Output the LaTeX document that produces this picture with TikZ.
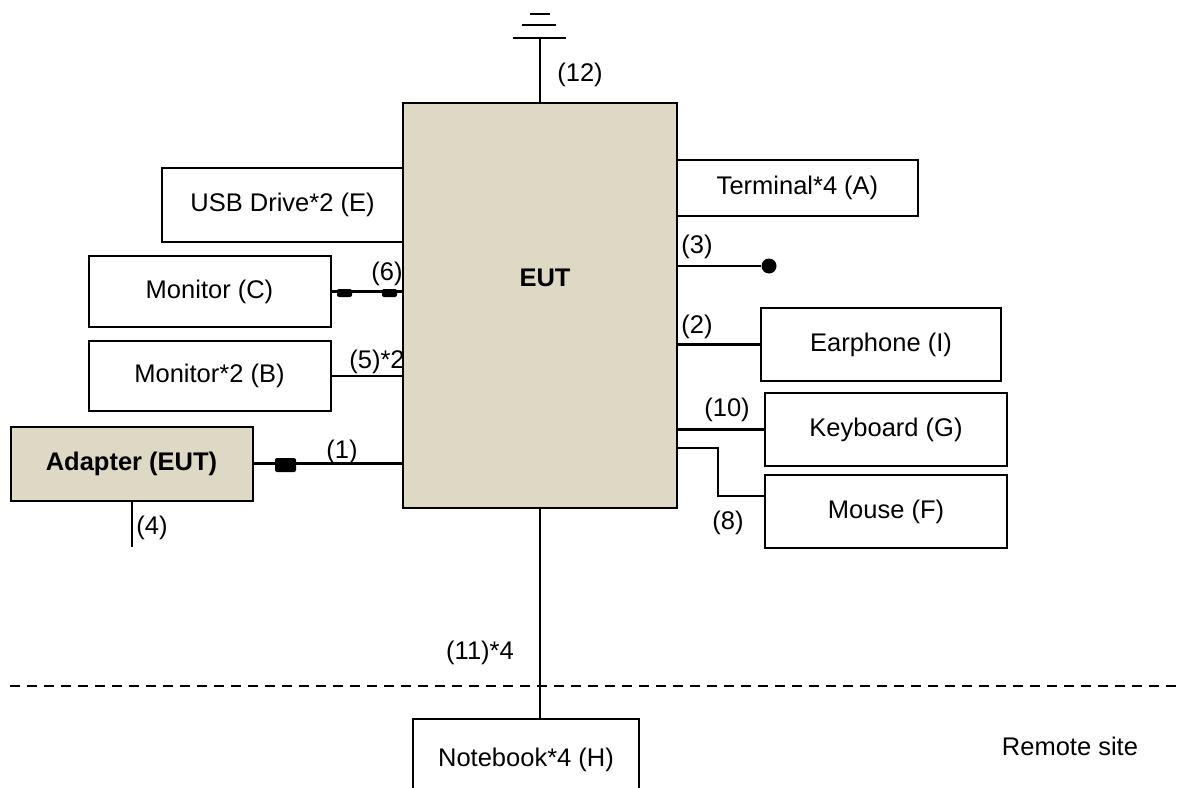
\documentclass[tikz,border=0pt]{standalone}
\usepackage{fontspec}
\setmainfont{Liberation Sans}
\definecolor{eutbeige}{RGB}{221,217,196}

\begin{document}
\begin{tikzpicture}[x=1pt,y=-1pt]
    \useasboundingbox (0,0) rectangle (1177,787);
    \clip (0,0) rectangle (1177,787);
    \tikzstyle{every node}=[font=\fontsize{25.5}{30}\selectfont, text=black]
    \tikzstyle{box}=[draw=black, line width=2pt, rectangle, inner sep=0pt, minimum width=242pt, minimum height=73pt]
    \tikzstyle{eutbox}=[box, fill=eutbeige]
    \tikzstyle{bold}=[font=\fontsize{25.5}{30}\selectfont\bfseries]
    \tikzstyle{cable}=[black, line width=2.2pt]
    \tikzstyle{bead}=[fill=black, rounded corners=2pt, inner sep=0pt, minimum width=15pt, minimum height=8pt]
    \tikzstyle{dot}=[circle, fill=black, inner sep=0pt, minimum size=15pt]

    % EUT and its peripherals
    \node[eutbox, minimum width=274pt, minimum height=405pt] (eut) at (540,305.5) {};
    \node[bold] (eutname) at (545,278) {EUT};
    \node[box, minimum width=241pt, minimum height=56pt] (terminal) at (797.5,188) {Terminal*4 (A)};
    \node[box, minimum width=241pt, minimum height=74pt] (usb) at (282.5,205) {USB Drive*2 (E)};
    \node[box, minimum height=71pt] (monc) at (209.5,291.5) {Monitor (C)};
    \node[box, minimum height=70pt] (monb) at (209.5,376) {Monitor*2 (B)};
    \node[eutbox, bold, minimum height=74pt] (adapter) at (131.5,463.5) {Adapter (EUT)};
    \node[box, minimum width=240pt] (earphone) at (881,344.5) {Earphone (I)};
    \node[box] (keyboard) at (886,429.5) {Keyboard (G)};
    \node[box] (mouse) at (886,511.5) {Mouse (F)};
    \node[box, minimum width=226pt, minimum height=82pt] (notebook) at (526,760) {Notebook*4 (H)};

    % cables
    \draw[cable] (monc.east) -- (monc.east -| eut.west);
    \draw[cable] (monb.east) -- (monb.east -| eut.west);
    \draw[cable] (adapter.east) -- (adapter.east -| eut.west);
    \draw[cable] (earphone.west) -- (earphone.west -| eut.east);
    \draw[cable] (keyboard.west) -- (keyboard.west -| eut.east);
    \coordinate (mbend) at (718,448);
    \draw[cable] (eut.east |- mbend) -- (mbend) |- ([yshift=15.5pt]mouse.west);
    \node[dot] (dot3) at (769,266) {};
    \draw[cable] (dot3) -- (dot3 -| eut.east);
    \coordinate (pwr) at (132,547);
    \draw[cable] (adapter.south -| pwr) -- (pwr);
    \draw[cable] (eut.south) -- (eut.south |- notebook.north);

    % ground
    \coordinate (gnd) at (540,38);
    \draw[cable] (eut.north) -- (gnd);
    \draw[line width=2.4pt] (513,38) -- (566,38);
    \draw[line width=2.4pt] (522,25) -- (556,25);
    \draw[line width=2.4pt] (530,14) -- (550,14);

    % ferrite cores
    \node[bead] (bead6a) at (344.5,293) {};
    \node[bead] (bead6b) at (389.5,293) {};
    \node[bead, minimum width=21pt, minimum height=14pt] (bead1) at (285.5,465) {};

    % cable labels
    \node (l12) at (580,75) {(12)};
    \node (l6) at (387,274) {(6)};
    \node (l5) at (377,362) {(5)*2};
    \node (l1) at (342,452) {(1)};
    \node (l4) at (152,528) {(4)};
    \node (l3) at (697,247) {(3)};
    \node (l2) at (697,327) {(2)};
    \node (l10) at (727,410) {(10)};
    \node (l8) at (728,523) {(8)};
    \node (l11) at (480,653) {(11)*4};

    % remote site border
    \draw[cable, dash pattern=on 10pt off 7pt] (10,686) -- (1177,686);
    \node (remote) at (1070,746) {Remote site};
\end{tikzpicture}
\end{document}
